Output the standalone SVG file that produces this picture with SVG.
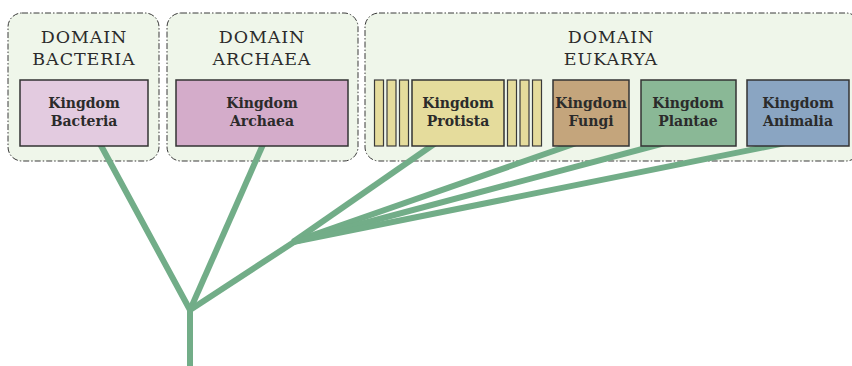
<svg xmlns="http://www.w3.org/2000/svg" width="852" height="366" viewBox="0 0 852 366">
  <style>
    .domain { fill: #eff6ea; stroke: #3a3a3a; stroke-width: 1; stroke-dasharray: 6 2 1.5 2; }
    .dtitle { font-family: "DejaVu Serif", "Liberation Serif", serif; font-size: 17.5px; fill: #2b2b2b; text-anchor: middle; letter-spacing: 0.9px; }
    .kbox { stroke: #333; stroke-width: 1.5; }
    .ktext { font-family: "DejaVu Serif", "Liberation Serif", serif; font-size: 14px; font-weight: bold; fill: #2b2b2b; text-anchor: middle; }
    .bar { fill: #e5dc9c; stroke: #3a3a3a; stroke-width: 1.2; }
    .branch { stroke: #72ad88; stroke-width: 6; fill: none; stroke-linecap: butt; stroke-linejoin: round; }
  </style>

  <!-- domains -->
  <g id="domain-bacteria">
    <rect class="domain" x="8" y="13" width="151" height="148" rx="14"/>
    <text class="dtitle" x="84" y="43">DOMAIN</text>
    <text class="dtitle" x="84" y="65">BACTERIA</text>
  </g>
  <g id="domain-archaea">
    <rect class="domain" x="167" y="13" width="191" height="148" rx="14"/>
    <text class="dtitle" x="262" y="43">DOMAIN</text>
    <text class="dtitle" x="262" y="65">ARCHAEA</text>
  </g>
  <g id="domain-eukarya">
    <rect class="domain" x="365" y="13" width="495" height="148" rx="14"/>
    <text class="dtitle" x="611" y="43">DOMAIN</text>
    <text class="dtitle" x="611" y="65">EUKARYA</text>
  </g>

  <!-- phylogenetic branches -->
  <g id="connectors">
    <polyline class="branch" points="190,366 190,310 98,140"/>
    <line class="branch" x1="190" y1="310" x2="265" y2="140"/>
    <line class="branch" x1="190" y1="310" x2="294" y2="242"/>
    <line class="branch" x1="293" y1="242" x2="440" y2="140"/>
    <line class="branch" x1="293" y1="242" x2="585" y2="140"/>
    <line class="branch" x1="293" y1="242" x2="676" y2="140"/>
    <line class="branch" x1="293" y1="242" x2="800" y2="140"/>
  </g>

  <!-- kingdoms -->
  <g id="kingdom-bacteria">
    <rect class="kbox" x="20" y="80" width="128" height="66" fill="#e3cbe0"/>
    <text class="ktext" x="84" y="108">Kingdom</text>
    <text class="ktext" x="84" y="126">Bacteria</text>
  </g>
  <g id="kingdom-archaea">
    <rect class="kbox" x="176" y="80" width="172" height="66" fill="#d4acca"/>
    <text class="ktext" x="262" y="108">Kingdom</text>
    <text class="ktext" x="262" y="126">Archaea</text>
  </g>
  <g id="protist-lineages">
    <rect class="bar" x="374.5" y="80" width="9" height="66"/>
    <rect class="bar" x="387" y="80" width="9" height="66"/>
    <rect class="bar" x="399.5" y="80" width="9" height="66"/>
    <rect class="bar" x="507.5" y="80" width="9" height="66"/>
    <rect class="bar" x="520" y="80" width="9" height="66"/>
    <rect class="bar" x="532.5" y="80" width="9" height="66"/>
  </g>
  <g id="kingdom-protista">
    <rect class="kbox" x="412" y="80" width="92" height="66" fill="#e5dc9c"/>
    <text class="ktext" x="458" y="108">Kingdom</text>
    <text class="ktext" x="458" y="126">Protista</text>
  </g>
  <g id="kingdom-fungi">
    <rect class="kbox" x="553" y="80" width="76" height="66" fill="#c4a57c"/>
    <text class="ktext" x="591" y="108">Kingdom</text>
    <text class="ktext" x="591" y="126">Fungi</text>
  </g>
  <g id="kingdom-plantae">
    <rect class="kbox" x="641" y="80" width="95" height="66" fill="#8ab896" stroke="#4e5a50"/>
    <text class="ktext" x="688" y="108">Kingdom</text>
    <text class="ktext" x="688" y="126">Plantae</text>
  </g>
  <g id="kingdom-animalia">
    <rect class="kbox" x="747" y="80" width="102" height="66" fill="#8aa5c2"/>
    <text class="ktext" x="798" y="108">Kingdom</text>
    <text class="ktext" x="798" y="126">Animalia</text>
  </g>
</svg>
